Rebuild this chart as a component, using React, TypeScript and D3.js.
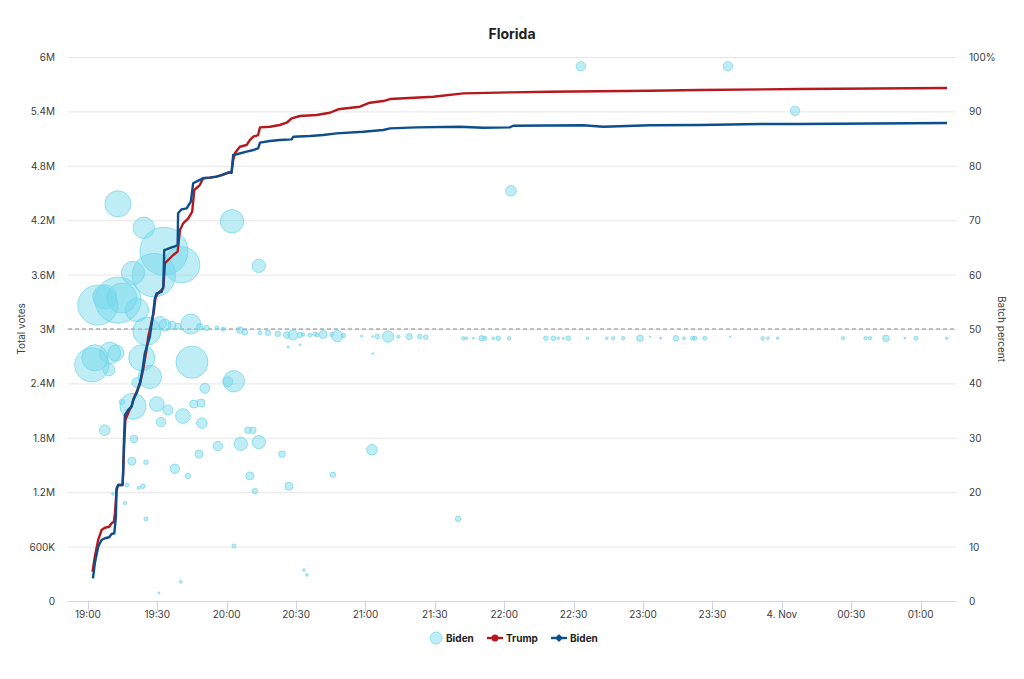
import React, { useEffect, useRef } from 'react';
import * as d3 from 'd3';

// minutes after 19:00 (3 Nov), cumulative votes in millions
const trumpTotals: [number, number][] = [
  [2.0, 0.323], [3.0, 0.489], [4.45, 0.673], [5.9, 0.783], [7.35, 0.808], [9.2, 0.819], [10.25, 0.857],
  [11.2, 0.875], [11.7, 0.967], [12.4, 1.224], [13.1, 1.279], [15.0, 1.279], [15.3, 1.445], [15.7, 1.74],
  [16.2, 1.996], [17.6, 2.085], [19.0, 2.16], [19.9, 2.24], [21.4, 2.327], [22.9, 2.437], [24.0, 2.57],
  [25.3, 2.768], [26.1, 2.915], [28.4, 3.173], [29.2, 3.339], [30.0, 3.386], [31.1, 3.411], [32.6, 3.452],
  [33.3, 3.724], [34.7, 3.761], [36.9, 3.816], [38.8, 3.853], [39.8, 4.092], [41.2, 4.166], [43.4, 4.221],
  [45.1, 4.294], [46.0, 4.533], [48.4, 4.588], [49.8, 4.662], [52.7, 4.669], [55.6, 4.68], [57.8, 4.698],
  [60.7, 4.726], [62.1, 4.724], [62.8, 4.864], [63.6, 4.941], [65.7, 5.01], [68.6, 5.029], [70.0, 5.084],
  [71.5, 5.121], [73.6, 5.139], [74.4, 5.224], [78.7, 5.231], [83.0, 5.25], [85.9, 5.275], [88.1, 5.324],
  [91.7, 5.349], [98.9, 5.36], [104.6, 5.385], [108.2, 5.423], [117.6, 5.452], [121.9, 5.496], [127.7, 5.514],
  [130.6, 5.536], [149.3, 5.562], [162.3, 5.599], [182.4, 5.61], [199.7, 5.617], [243.0, 5.628],
  [264.6, 5.636], [307.8, 5.647], [371.4, 5.658],
];

const bidenTotals: [number, number][] = [
  [2.2, 0.25], [3.0, 0.416], [4.45, 0.599], [5.9, 0.673], [7.35, 0.692], [9.2, 0.703], [10.25, 0.739],
  [11.4, 0.747], [11.7, 0.819], [12.1, 0.93], [12.4, 1.243], [13.1, 1.279], [15.0, 1.279], [15.26, 1.445],
  [15.56, 1.739], [16.0, 2.05], [17.4, 2.107], [18.9, 2.143], [19.6, 2.217], [21.05, 2.291], [22.5, 2.401],
  [23.6, 2.548], [24.6, 2.732], [26.8, 2.915], [28.2, 3.173], [28.97, 3.339], [29.7, 3.394], [31.9, 3.411],
  [32.6, 3.466], [33.0, 3.871], [34.0, 3.879], [36.2, 3.901], [37.9, 3.915], [38.8, 3.926], [39.0, 4.276],
  [40.5, 4.32], [42.7, 4.331], [44.5, 4.404], [45.5, 4.607], [47.7, 4.636], [49.8, 4.662], [52.7, 4.669],
  [55.6, 4.68], [57.8, 4.698], [60.7, 4.726], [62.1, 4.724], [62.8, 4.919], [64.3, 4.927], [68.6, 4.956],
  [71.5, 4.974], [73.6, 4.993], [74.4, 5.055], [78.7, 5.073], [83.0, 5.084], [88.1, 5.092], [88.8, 5.121],
  [96.0, 5.128], [101.7, 5.14], [107.5, 5.158], [119.0, 5.176], [127.7, 5.195], [130.6, 5.213],
  [142.1, 5.224], [160.8, 5.231], [170.9, 5.22], [182.4, 5.224], [183.9, 5.242], [214.1, 5.247],
  [222.8, 5.231], [243.0, 5.247], [264.6, 5.25], [290.5, 5.261], [307.8, 5.261], [371.4, 5.272],
];

// batches: minutes after 19:00, Biden share of batch (%), batch size (thousand votes)
const bidenBatches: [number, number, number][] = [
  [1.7, 43.4, 145], [3.0, 44.7, 85], [9.5, 45.6, 57], [9.1, 42.5, 18], [12.1, 45.6, 32],
  [4.3, 54.4, 200], [13.0, 55.3, 265], [14.7, 55.7, 112], [7.3, 55.9, 72], [21.2, 53.5, 68],
  [19.5, 60.3, 68], [13.0, 73.0, 85], [24.2, 68.6, 57], [32.9, 64.3, 288], [40.6, 61.8, 162],
  [28.5, 59.9, 235], [25.5, 49.6, 98], [33.3, 50.7, 18], [44.5, 50.9, 50], [23.3, 44.7, 85],
  [45.0, 43.9, 128], [26.8, 41.2, 68], [62.3, 69.8, 68], [73.9, 61.6, 22], [63.1, 40.4, 57],
  [60.5, 40.3, 12.5], [21.2, 40.1, 12.5], [50.6, 39.1, 12.5], [19.5, 35.8, 85], [29.8, 36.2, 27],
  [34.6, 35.1, 12.5], [41.1, 34.0, 27], [45.8, 36.2, 8], [48.9, 36.4, 8], [49.3, 32.7, 14],
  [31.6, 32.9, 11], [14.7, 36.6, 3.6], [7.3, 31.4, 14], [19.9, 29.8, 7], [19.0, 25.7, 8],
  [25.1, 25.5, 2.6], [16.9, 21.3, 2], [23.8, 21.1, 2.6], [22.0, 20.8, 1.4], [10.8, 19.7, 0.9],
  [16.0, 18.0, 1.4], [25.1, 15.1, 2], [37.6, 24.3, 11], [43.2, 23.0, 3.6], [48.0, 27.0, 8],
  [56.2, 28.5, 11], [66.1, 28.9, 22], [73.9, 29.2, 22], [69.2, 31.4, 5.4], [71.3, 31.4, 5.4],
  [83.9, 27.0, 5.4], [70.0, 23.0, 8], [72.2, 20.2, 3.6], [86.9, 21.1, 8], [63.1, 10.1, 2],
  [40.2, 3.5, 0.9], [30.7, 1.5, 0.5], [93.4, 5.7, 0.9], [94.7, 4.8, 0.9], [122.8, 27.8, 14],
  [105.9, 23.2, 3.6], [160.0, 15.1, 3.6], [182.9, 75.4, 14], [213.1, 98.3, 11], [276.7, 98.3, 11],
  [305.7, 90.1, 11],
  [31.1, 51.1, 22], [36.3, 50.7, 8], [38.9, 50.5, 4.5], [48.4, 50.4, 5.4], [51.4, 50.2, 3.6],
  [55.8, 50.2, 2], [58.4, 50.0, 2], [65.7, 49.8, 5.4], [67.9, 49.4, 3.6], [74.4, 49.3, 2],
  [77.8, 49.3, 3.6], [82.1, 49.1, 3.6], [86.0, 48.9, 5.4], [88.6, 48.9, 12.5], [91.7, 48.9, 3.6],
  [96.0, 48.9, 2], [99.0, 48.9, 2], [86.5, 46.7, 0.5], [91.7, 47.1, 0.5],
  [93.0, 49.0, 1.4], [98.1, 49.1, 2], [101.7, 49.0, 8], [105.4, 49.0, 2], [107.8, 48.7, 16],
  [110.4, 48.8, 2.6], [118.3, 48.7, 0.5], [123.1, 48.6, 0.5], [125.1, 48.6, 2.6], [129.8, 48.6, 16],
  [134.2, 48.6, 1.4], [138.9, 48.6, 4.5], [143.5, 48.6, 2.6], [146.1, 48.5, 2.6], [123.1, 45.5, 0.25],
  [162.3, 48.3, 1.4], [163.7, 48.3, 0.9], [166.6, 48.3, 0.5], [170.2, 48.3, 3.6], [171.6, 48.3, 2],
  [175.2, 48.3, 0.9], [177.4, 48.3, 2.6], [182.1, 48.3, 1.4], [198.0, 48.3, 2.6], [201.2, 48.3, 2.6],
  [203.3, 48.3, 0.9], [205.5, 48.3, 0.5], [207.7, 48.3, 2.6], [215.9, 48.3, 0.9], [224.3, 48.3, 0.9],
  [227.1, 48.3, 1.4], [231.4, 48.3, 1.4], [238.7, 48.3, 5.4], [243.0, 48.6, 0.25], [247.6, 48.3, 0.5],
  [254.2, 48.3, 3.6], [257.7, 48.3, 0.9], [261.4, 48.3, 2], [262.4, 48.3, 2], [266.7, 48.3, 2],
  [277.6, 48.6, 0.25], [291.7, 48.3, 1.4], [294.1, 48.3, 0.9], [298.2, 48.3, 0.9], [326.5, 48.3, 1.4],
  [336.2, 48.3, 1.4], [338.1, 48.3, 1.4], [345.0, 48.3, 5.4], [353.2, 48.3, 0.5], [358.0, 48.3, 2],
  [371.3, 48.3, 0.9],
];

const voteTicks = [0, 0.6, 1.2, 1.8, 2.4, 3, 3.6, 4.2, 4.8, 5.4, 6];
const percentTicks = [0, 10, 20, 30, 40, 50, 60, 70, 80, 90, 100];
const legendItems = [
  { label: 'Biden', kind: 'bubble' },
  { label: 'Trump', kind: 'trump' },
  { label: 'Biden', kind: 'biden' },
];

const TRUMP = '#b5191f';
const BIDEN = '#0d4f8c';
const BUBBLE = '#72d6ea';
const LABEL = '#3d3d3d';
const FONT = 'Inter, "Open Sans", sans-serif';

const startTime = new Date(2020, 10, 3, 19, 0, 0).getTime();
const toDate = (m: number) => new Date(startTime + m * 60000);

const App = () => {
  const svgRef = useRef<SVGSVGElement>(null);

  useEffect(() => {
    const width = 1024;
    const height = 679;
    const plot = { left: 68, right: 956, top: 57, bottom: 601 };
    const svg = d3.select(svgRef.current);
    svg.selectAll('*').remove();

    const x = d3.scaleTime()
      .domain([toDate(-8.6), toDate(375.3)])
      .range([plot.left, plot.right]);
    const yVotes = d3.scaleLinear().domain([0, 6]).range([plot.bottom, plot.top]);
    const yPct = d3.scaleLinear().domain([0, 100]).range([plot.bottom, plot.top]);
    const rSize = d3.scaleSqrt().domain([0, 288]).range([0, 24]);

    svg.append('rect').attr('width', width).attr('height', height).attr('fill', '#fff');

    // title
    svg.append('text')
      .attr('x', width / 2).attr('y', 39)
      .attr('text-anchor', 'middle')
      .attr('font-family', FONT).attr('font-size', 14).attr('font-weight', 700)
      .attr('fill', '#222')
      .text('Florida');

    // gridlines
    svg.append('g')
      .selectAll('line')
      .data(voteTicks)
      .join('line')
      .attr('x1', plot.left).attr('x2', plot.right)
      .attr('y1', d => yVotes(d) + 0.5).attr('y2', d => yVotes(d) + 0.5)
      .attr('stroke', '#e6e6e6');

    // left axis labels
    svg.append('g')
      .selectAll('text')
      .data(voteTicks)
      .join('text')
      .attr('x', 55).attr('y', d => yVotes(d) + 4)
      .attr('text-anchor', 'end')
      .attr('font-family', FONT).attr('font-size', 10).attr('fill', LABEL)
      .text(d => d === 0 ? '0' : d < 1 ? `${Math.round(d * 1000)}K` : `${d}M`);

    // right axis labels
    svg.append('g')
      .selectAll('text')
      .data(percentTicks)
      .join('text')
      .attr('x', 969).attr('y', d => yPct(d) + 4)
      .attr('text-anchor', 'start')
      .attr('font-family', FONT).attr('font-size', 10).attr('fill', LABEL)
      .text(d => d === 100 ? '100%' : String(d));

    // axis titles
    svg.append('text')
      .attr('transform', `translate(25,${(plot.top + plot.bottom) / 2}) rotate(-90)`)
      .attr('text-anchor', 'middle')
      .attr('font-family', FONT).attr('font-size', 10).attr('fill', LABEL)
      .text('Total votes');
    svg.append('text')
      .attr('transform', `translate(998,${(plot.top + plot.bottom) / 2}) rotate(90)`)
      .attr('text-anchor', 'middle')
      .attr('font-family', FONT).attr('font-size', 10).attr('fill', LABEL)
      .text('Batch percent');

    // x axis
    const xTicks = x.ticks(d3.timeMinute.every(30) as d3.TimeInterval);
    const xAxis = svg.append('g');
    xAxis.append('line')
      .attr('x1', plot.left).attr('x2', plot.right)
      .attr('y1', plot.bottom + 0.5).attr('y2', plot.bottom + 0.5)
      .attr('stroke', '#ccd6eb');
    xAxis.selectAll('line.tick')
      .data(xTicks)
      .join('line')
      .attr('class', 'tick')
      .attr('x1', d => Math.round(x(d)) + 0.5).attr('x2', d => Math.round(x(d)) + 0.5)
      .attr('y1', plot.bottom).attr('y2', plot.bottom + 10)
      .attr('stroke', '#ccd6eb');
    const fmt = d3.timeFormat('%H:%M');
    xAxis.selectAll('text')
      .data(xTicks)
      .join('text')
      .attr('x', d => x(d)).attr('y', plot.bottom + 17)
      .attr('text-anchor', 'middle')
      .attr('font-family', FONT).attr('font-size', 10).attr('fill', LABEL)
      .text(d => (d.getHours() === 0 && d.getMinutes() === 0) ? `${d.getDate()}. Nov` : fmt(d));

    // 50% reference line
    svg.append('line')
      .attr('x1', plot.left).attr('x2', plot.right)
      .attr('y1', yPct(50)).attr('y2', yPct(50))
      .attr('stroke', '#888').attr('stroke-width', 1.2)
      .attr('stroke-dasharray', '4,3');

    // bubbles
    const sorted = [...bidenBatches].sort((a, b) => b[2] - a[2]);
    svg.append('g')
      .selectAll('circle')
      .data(sorted)
      .join('circle')
      .attr('cx', d => x(toDate(d[0])))
      .attr('cy', d => yPct(d[1]))
      .attr('r', d => Math.max(0.8, rSize(d[2])))
      .attr('fill', BUBBLE).attr('fill-opacity', 0.45)
      .attr('stroke', BUBBLE).attr('stroke-opacity', 0.75).attr('stroke-width', 1);

    // cumulative lines
    const line = d3.line<[number, number]>()
      .x(d => x(toDate(d[0])))
      .y(d => yVotes(d[1]));

    svg.append('path')
      .datum(trumpTotals)
      .attr('d', line)
      .attr('fill', 'none').attr('stroke', TRUMP).attr('stroke-width', 2.4)
      .attr('stroke-linejoin', 'round');
    svg.append('path')
      .datum(bidenTotals)
      .attr('d', line)
      .attr('fill', 'none').attr('stroke', BIDEN).attr('stroke-width', 2.4)
      .attr('stroke-linejoin', 'round');

    // legend
    const legendX = [436, 495, 559];
    const legend = svg.append('g').attr('transform', 'translate(0,638)');
    legendItems.forEach((item, i) => {
      const cx = legendX[i];
      const g = legend.append('g');
      if (item.kind === 'bubble') {
        g.append('circle').attr('cx', cx).attr('cy', 0).attr('r', 6)
          .attr('fill', BUBBLE).attr('fill-opacity', 0.45)
          .attr('stroke', BUBBLE).attr('stroke-opacity', 0.75);
      } else {
        const col = item.kind === 'trump' ? TRUMP : BIDEN;
        g.append('line').attr('x1', cx - 8).attr('x2', cx + 8).attr('y1', 0).attr('y2', 0)
          .attr('stroke', col).attr('stroke-width', 2.4);
        if (item.kind === 'trump') {
          g.append('circle').attr('cx', cx).attr('cy', 0).attr('r', 3.5).attr('fill', col);
        } else {
          g.append('path').attr('d', `M${cx},-4L${cx + 4},0L${cx},4L${cx - 4},0Z`).attr('fill', col);
        }
      }
      g.append('text')
        .attr('x', cx + (item.kind === 'bubble' ? 10 : 11)).attr('y', 4)
        .attr('font-family', FONT).attr('font-size', 10).attr('font-weight', 700)
        .attr('fill', '#222')
        .text(item.label);
    });
  }, []);

  return (
    <svg ref={svgRef} width={1024} height={679}
      style={{ position: 'absolute', left: 0, top: 0, display: 'block' }} />
  );
};

export default App;
